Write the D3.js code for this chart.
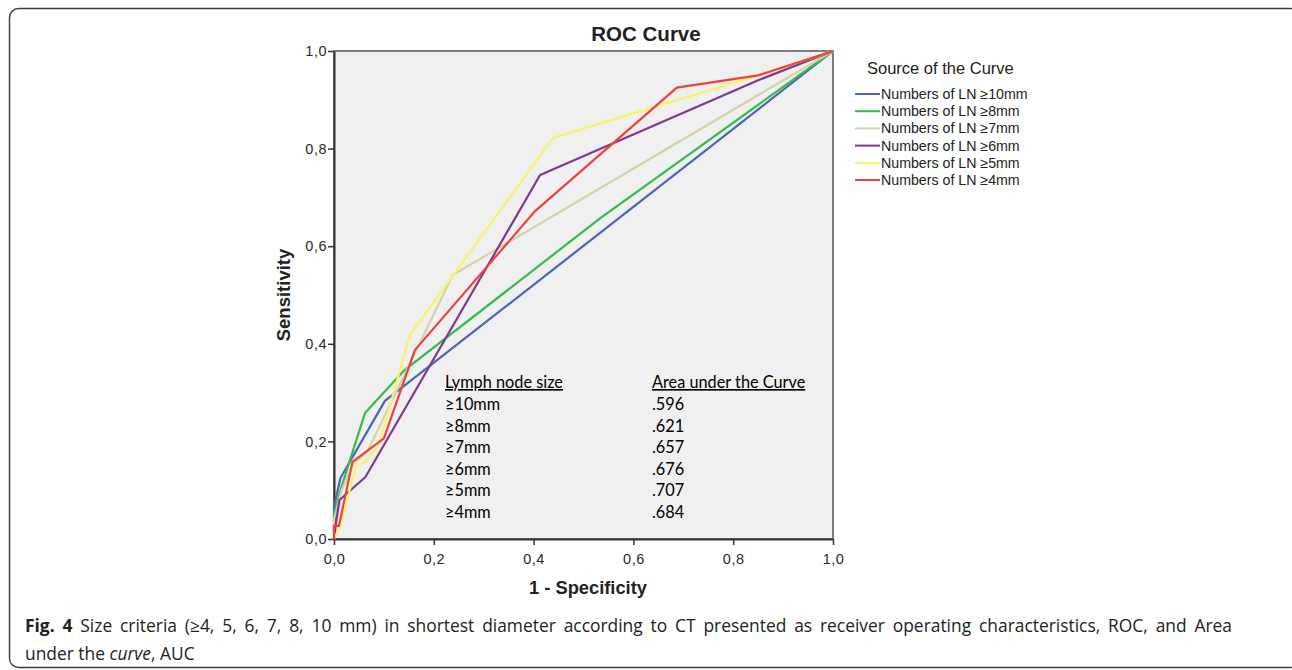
<!DOCTYPE html>
<html>
<head>
<meta charset="utf-8">
<script src="https://cdn.jsdelivr.net/npm/d3@7"></script>
<style>
  body { margin:0; background:#fff; }
  svg { display:block; }
</style>
</head>
<body>
<div id="chart"></div>
<script>
(function(){

    const width = 1292;
    const height = 670;

    // curve data: [1 - specificity, sensitivity]
    const ln10 = [[0,0],[0,0.066],[0.013,0.125],[0.102,0.283],[1,1]];
    const ln8  = [[0,0],[0,0.05],[0.013,0.1],[0.062,0.258],[0.14,0.345],[0.533,0.657],[1,1]];
    const ln7  = [[0,0],[0,0.04],[0.015,0.1],[0.04,0.155],[0.067,0.18],[0.238,0.541],[1,1]];
    const ln6  = [[0,0],[0.005,0.04],[0.011,0.08],[0.063,0.127],[0.413,0.746],[0.85,0.94],[1,1]];
    const ln5  = [[0,0],[0.013,0.027],[0.045,0.152],[0.063,0.158],[0.09,0.193],[0.152,0.418],[0.439,0.822],[0.85,0.95],[1,1]];
    const ln4  = [[0,0],[0,0.027],[0.01,0.027],[0.037,0.158],[0.1,0.206],[0.162,0.387],[0.403,0.672],[0.687,0.925],[0.85,0.95],[1,1]];

    const seriesNames = ['Numbers of LN ≥10mm','Numbers of LN ≥8mm','Numbers of LN ≥7mm',
                         'Numbers of LN ≥6mm','Numbers of LN ≥5mm','Numbers of LN ≥4mm'];
    const seriesData = [ln10, ln8, ln7, ln6, ln5, ln4];
    const colors = ['#4a64b8','#35bb4a','#d6d1a8','#7e3a8e','#f7f36a','#f0403f'];

    const sizeLabels = ['≥10mm','≥8mm','≥7mm','≥6mm','≥5mm','≥4mm'];
    const aucValues = ['.596','.621','.657','.676','.707','.684'];
    const tickValues = [0,0.2,0.4,0.6,0.8,1.0];

    const svg = d3.select("#chart")
        .append("svg")
        .attr("width", width)
        .attr("height", height);

    // figure frame
    svg.append("rect")
        .attr("x", 9.5).attr("y", 8.5)
        .attr("width", 1290).attr("height", 659)
        .attr("rx", 9).attr("ry", 9)
        .attr("fill", "none")
        .attr("stroke", "#3a3a3a")
        .attr("stroke-width", 1.4);

    // scales
    const x = d3.scaleLinear().domain([0,1]).range([334,833]);
    const y = d3.scaleLinear().domain([0,1]).range([539,51]);

    // plot background
    svg.append("rect")
        .attr("x", x(0)).attr("y", y(1))
        .attr("width", x(1)-x(0)).attr("height", y(0)-y(1))
        .attr("fill", "#f0f0f0")
        .attr("stroke", "#555")
        .attr("stroke-width", 1.5);

    const fmt = d => d3.format(".1f")(d).replace(".", ",");
    const labelFont = "'Liberation Sans', Arial, sans-serif";

    const xAxis = svg.append("g")
        .attr("transform", `translate(0,${y(0)})`)
        .call(d3.axisBottom(x).tickValues(tickValues).tickFormat(fmt).tickSize(6).tickSizeOuter(0));
    const yAxis = svg.append("g")
        .attr("transform", `translate(${x(0)},0)`)
        .call(d3.axisLeft(y).tickValues(tickValues).tickFormat(fmt).tickSize(6).tickSizeOuter(0));

    [xAxis, yAxis].forEach(function(g){
        g.select(".domain").attr("stroke", "#333").attr("stroke-width", 2);
        g.selectAll(".tick line").attr("stroke", "#333").attr("stroke-width", 1.5);
        g.selectAll(".tick text")
            .attr("font-family", labelFont)
            .attr("font-size", 14.5)
            .attr("letter-spacing", 0.5)
            .attr("fill", "#2a2a2a");
    });
    xAxis.selectAll(".tick text").attr("dy", "1.1em");
    yAxis.selectAll(".tick text").attr("x", -7);

    // table of AUC values
    const tbl = svg.append("g")
        .attr("font-family", "Lato, 'Open Sans', sans-serif")
        .attr("font-size", 16.3).attr("fill", "#000");
    tbl.append("text").attr("x", 445).attr("y", 388)
        .attr("text-decoration", "underline").text("Lymph node size");
    tbl.append("text").attr("x", 652).attr("y", 388)
        .attr("text-decoration", "underline").text("Area under the Curve");
    sizeLabels.forEach(function(s, i){
        tbl.append("text").attr("x", 445).attr("y", 410 + i*21.6).text(s);
        tbl.append("text").attr("x", 652).attr("y", 410 + i*21.6).text(aucValues[i]);
    });

    // curves
    const line = d3.line().x(d => x(d[0])).y(d => y(d[1]));
    svg.append("g").selectAll("path")
        .data(seriesData)
        .enter().append("path")
        .attr("d", line)
        .attr("fill", "none")
        .attr("stroke", (d, i) => colors[i])
        .attr("stroke-width", 2.2)
        .attr("stroke-linejoin", "round");

    // titles
    svg.append("text")
        .attr("x", 646).attr("y", 41)
        .attr("text-anchor", "middle")
        .attr("font-family", labelFont).attr("font-weight", "bold").attr("font-size", 20.5)
        .attr("fill", "#222")
        .text("ROC Curve");
    svg.append("text")
        .attr("x", 588).attr("y", 594)
        .attr("text-anchor", "middle")
        .attr("font-family", labelFont).attr("font-weight", "bold").attr("font-size", 18.3)
        .attr("fill", "#222")
        .text("1 - Specificity");
    svg.append("text")
        .attr("transform", "translate(290,295) rotate(-90)")
        .attr("text-anchor", "middle")
        .attr("font-family", labelFont).attr("font-weight", "bold").attr("font-size", 18.5)
        .attr("fill", "#222")
        .text("Sensitivity");

    // legend
    const legend = svg.append("g").attr("font-family", labelFont).attr("fill", "#222");
    legend.append("text").attr("x", 867).attr("y", 74).attr("font-size", 16.5).text("Source of the Curve");
    seriesNames.forEach(function(name, i){
        const ly = 94 + i*17.2;
        legend.append("line")
            .attr("x1", 855).attr("x2", 880).attr("y1", ly).attr("y2", ly)
            .attr("stroke", colors[i]).attr("stroke-width", 2);
        legend.append("text").attr("x", 881).attr("y", ly + 5)
            .attr("font-size", 14.2).text(name);
    });

    // caption, first line justified to the frame width
    const cap = svg.append("g").attr("font-family", "'Open Sans', sans-serif").attr("font-size", 17.4).attr("fill", "#222");
    const c1 = cap.append("text").attr("x", 25).attr("y", 632);
    c1.append("tspan").attr("font-weight", "bold").text("Fig. 4");
    c1.append("tspan").text(" Size criteria (≥4, 5, 6, 7, 8, 10 mm) in shortest diameter according to CT presented as receiver operating characteristics, ROC, and Area");
    const natural = c1.node().getComputedTextLength();
    const gaps = c1.text().split(" ").length - 1;
    c1.attr("word-spacing", Math.max(0, (1232 - 25 - natural) / gaps));
    const c2 = cap.append("text").attr("x", 25).attr("y", 660);
    c2.append("tspan").text("under the ");
    c2.append("tspan").attr("font-style", "italic").text("curve");
    c2.append("tspan").text(", AUC");

}());
</script>
</body>
</html>
